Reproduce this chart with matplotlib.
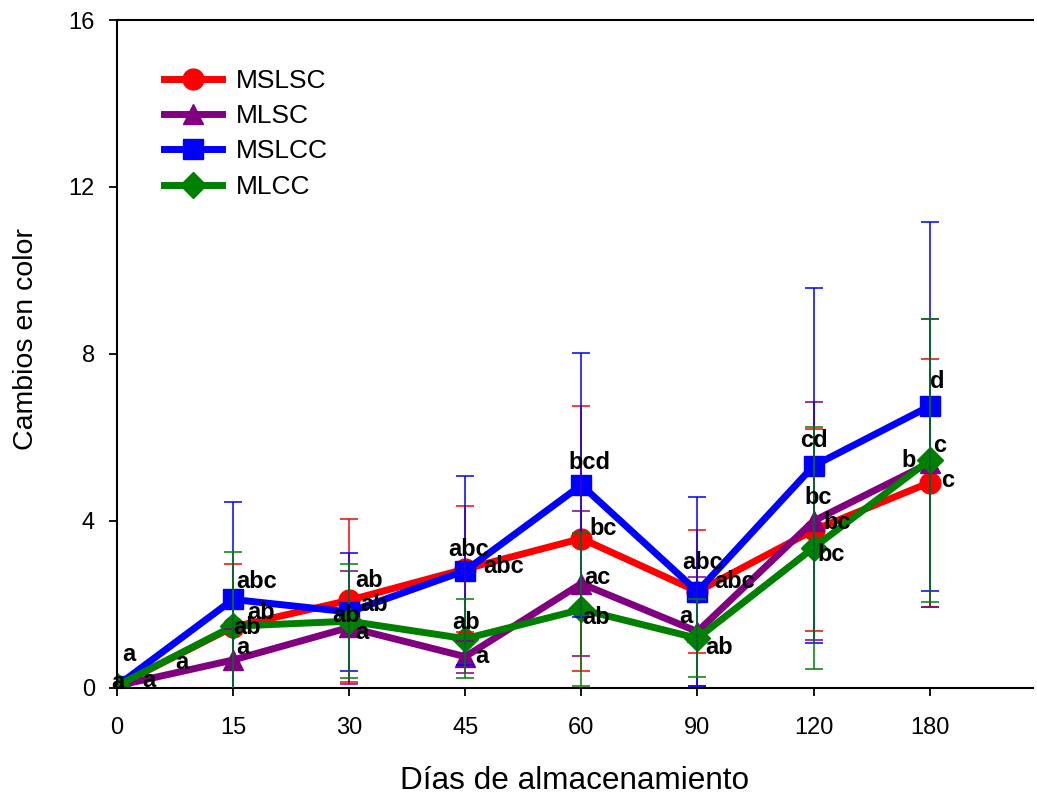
import numpy as np
import matplotlib.pyplot as plt

plt.rcParams['font.family'] = ['Liberation Sans', 'DejaVu Sans']

# storage days (categorical axis)
days = ["0", "15", "30", "45", "60", "90", "120", "180"]

series_names = ["MSLSC", "MLSC", "MSLCC", "MLCC"]

mslsc_mean = [0.05, 1.46, 2.10, 2.85, 3.58, 2.31, 3.78, 4.92]
mslsc_err = [0.0, 1.50, 1.95, 1.50, 3.17, 1.48, 2.42, 2.97]
mslsc_letters = ["a", "ab", "ab", "abc", "bc", "abc", "bc", "c"]

mlsc_mean = [0.05, 0.67, 1.45, 0.75, 2.50, 1.35, 4.00, 5.39]
mlsc_err = [0.0, 0.75, 1.35, 0.38, 1.73, 1.30, 2.85, 3.45]
mlsc_letters = ["a", "a", "a", "a", "ac", "a", "bc", "b"]

mslcc_mean = [0.05, 2.12, 1.82, 2.81, 4.86, 2.31, 5.32, 6.75]
mslcc_err = [0.0, 2.33, 1.41, 2.27, 3.16, 2.27, 4.25, 4.42]
mslcc_letters = ["a", "abc", "ab", "abc", "bcd", "abc", "cd", "d"]

mlcc_mean = [0.05, 1.48, 1.60, 1.18, 1.88, 1.19, 3.36, 5.46]
mlcc_err = [0.0, 1.78, 1.37, 0.95, 1.84, 0.93, 2.90, 3.39]
mlcc_letters = ["a", "ab", "ab", "ab", "ab", "ab", "bc", "c"]

# label offsets in pixels (right, up) from each mean point
offsets = {
    "MSLSC": [(32, 5), (28, 15), (20, 20), (38, 2), (22, 10), (37, 10), (24, 8), (18, 2)],
    "MLSC": [(65, 23), (10, 12), (13, -5), (17, 0), (16, 6), (-12, 15), (5, 23), (-21, 2)],
    "MSLCC": [(12, 31), (24, 18), (25, 7), (3, 21), (8, 23), (5, 29), (0, 25), (8, 25)],
    "MLCC": [(1, 3), (14, -1), (-3, 6), (1, 16), (15, -8), (22, -9), (18, -7), (10, 15)],
}

styles = {
    "MSLSC": dict(color="#ff0000", marker="o", ms=15),
    "MLSC": dict(color="#800080", marker="^", ms=15),
    "MSLCC": dict(color="#0000ff", marker="s", ms=14),
    "MLCC": dict(color="#008000", marker="D", ms=13),
}

data = {
    "MSLSC": (mslsc_mean, mslsc_err, mslsc_letters),
    "MLSC": (mlsc_mean, mlsc_err, mlsc_letters),
    "MSLCC": (mslcc_mean, mslcc_err, mslcc_letters),
    "MLCC": (mlcc_mean, mlcc_err, mlcc_letters),
}

x = np.arange(len(days))

fig = plt.figure(figsize=(10.37, 7.97), dpi=100)
ax = fig.add_axes([0.1128, 0.1368, 0.8833, 0.8381])

# mean lines first, error bars on top of them
for name in series_names:
    mean, err, letters = data[name]
    st = styles[name]
    ax.plot(x, mean, color=st["color"], marker=st["marker"], ms=st["ms"],
            lw=5, label=name, zorder=2)

for name in series_names:
    mean, err, letters = data[name]
    ax.errorbar(x, mean, yerr=err, fmt="none", ecolor=styles[name]["color"],
                elinewidth=1.1, capsize=6.8, capthick=1.1, zorder=3)

# significance letters
for name in series_names:
    mean, err, letters = data[name]
    for i, (m, lab) in enumerate(zip(mean, letters)):
        ax.annotate(lab, xy=(x[i], m), xytext=offsets[name][i], textcoords="offset pixels",
                    ha="center", va="center", fontsize=17, fontweight="bold", zorder=5)

ax.set_xlim(0, 7.89)
ax.set_ylim(0, 16)
ax.set_xticks(x)
ax.set_xticklabels(days)
ax.set_yticks([0, 4, 8, 12, 16])

ax.spines["right"].set_visible(False)
for s in ["left", "bottom", "top"]:
    ax.spines[s].set_linewidth(1.5)
ax.tick_params(direction="out", length=6, width=1.3, labelsize=17)
ax.tick_params(axis="x", pad=15)
ax.tick_params(axis="y", pad=10)

ax.set_xlabel("Días de almacenamiento", fontsize=22.7, labelpad=19)
ax.set_ylabel("Cambios en color", fontsize=20.5)
ax.yaxis.set_label_coords(-0.085, 0.522)

ax.legend(loc="upper left", bbox_to_anchor=(0.051, 0.927), frameon=False, fontsize=19,
          handlelength=2.2, handletextpad=0.55, labelspacing=0.43, borderpad=0,
          borderaxespad=0, numpoints=1)

fig.savefig("out.png", dpi=100)
plt.close()
